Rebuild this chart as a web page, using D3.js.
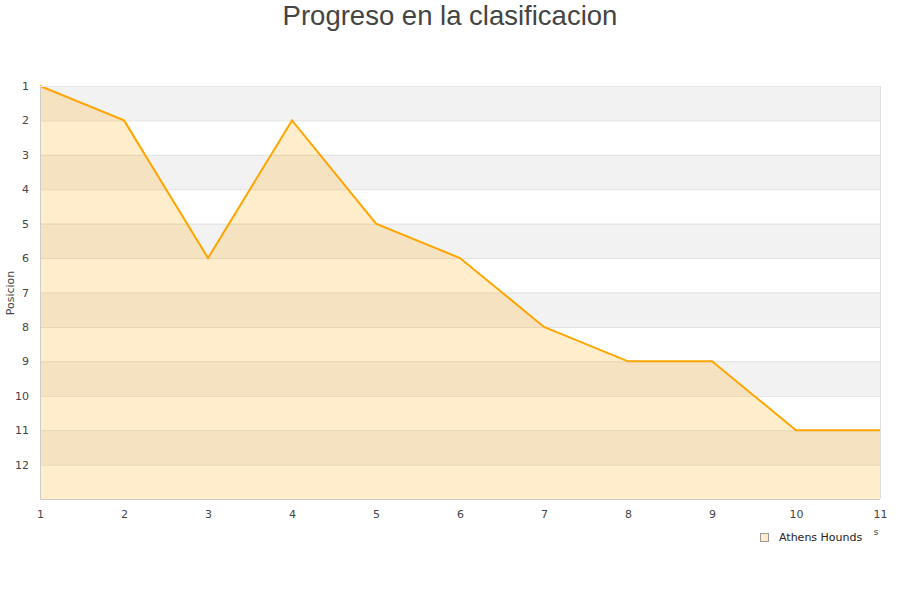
<!DOCTYPE html>
<html><head><meta charset="utf-8">
<script src="https://cdn.jsdelivr.net/npm/d3@7"></script>
<style>body{margin:0;background:#fff}</style>
</head><body>
<svg id="c" width="900" height="600"></svg>
<script>
const jornadas = [1,2,3,4,5,6,7,8,9,10,11];
const posiciones = [1,2,6,2,5,6,8,9,9,11,11];
const yTicks = [1,2,3,4,5,6,7,8,9,10,11,12];
const seriesName = "Athens Hounds";
const title = "Progreso en la clasificacion";

const svg = d3.select("#c");
const m = {l:40, r:880, t:86, b:499};
const x = d3.scaleLinear().domain([1,11]).range([m.l, m.r]);
const y = d3.scaleLinear().domain([1,13]).range([m.t, m.b]);

// bands
const bands = d3.range(1,13);
svg.append("g").selectAll("rect").data(bands).join("rect")
  .attr("x", m.l).attr("width", m.r-m.l)
  .attr("y", d=>y(d)).attr("height", d=>y(d+1)-y(d))
  .attr("fill", d=> d%2===1 ? "#f2f2f2" : "#ffffff");
// grid
svg.append("g").selectAll("line").data(d3.range(2,13)).join("line")
  .attr("x1", m.l).attr("x2", m.r).attr("y1", d=>y(d)+0.5).attr("y2", d=>y(d)+0.5)
  .attr("stroke", "#e0e0e0");

// area
const area = d3.area().x((d,i)=>x(jornadas[i])).y0(y(13)).y1(d=>y(d));
svg.append("path").datum(posiciones).attr("d", area)
  .attr("fill", "#ffa500").attr("fill-opacity", 0.2);
const line = d3.line().x((d,i)=>x(jornadas[i])).y(d=>y(d));
svg.append("path").datum(posiciones).attr("d", line)
  .attr("fill","none").attr("stroke","#ffa500").attr("stroke-width",2);

// border
svg.append("line").attr("x1",m.l+0.5).attr("x2",m.l+0.5).attr("y1",m.t).attr("y2",m.b).attr("stroke","#ccc");
svg.append("line").attr("x1",m.r+0.5).attr("x2",m.r+0.5).attr("y1",m.t).attr("y2",m.b).attr("stroke","#e0e0e0");
svg.append("line").attr("x1",m.l).attr("x2",m.r).attr("y1",m.b+0.5).attr("y2",m.b+0.5).attr("stroke","#ccc");
svg.append("line").attr("x1",m.l).attr("x2",m.r).attr("y1",m.t+0.5).attr("y2",m.t+0.5).attr("stroke","#e8e8e8");

// axes
const font = "DejaVu Sans, sans-serif";
const yAxis = svg.append("g").attr("transform",`translate(${m.l-8},0)`)
  .call(d3.axisLeft(y).tickValues(yTicks).tickSize(0).tickFormat(d3.format("d")));
yAxis.select(".domain").remove();
yAxis.selectAll("text").attr("font-family",font).attr("font-size",11).attr("fill","#444").attr("dx",0);

const xAxis = svg.append("g").attr("transform",`translate(0,${m.b+8})`)
  .call(d3.axisBottom(x).tickValues(jornadas).tickSize(0).tickFormat(d3.format("d")));
xAxis.select(".domain").remove();
xAxis.selectAll("text").attr("font-family",font).attr("font-size",11).attr("fill","#444");

svg.append("text").attr("transform","translate(14,293) rotate(-90)")
  .attr("text-anchor","middle").attr("font-family",font).attr("font-size",11).attr("fill","#444").text("Posicion");

svg.append("text").attr("x",876).attr("y",535).attr("font-family",font).attr("font-size",9).attr("fill","#444").attr("text-anchor","middle").text("s");

svg.append("text").attr("x",450).attr("y",25).attr("text-anchor","middle")
  .attr("font-family","Liberation Sans, Arial, sans-serif").attr("font-size",27.5).attr("fill","#444").text(title);

// legend
svg.append("rect").attr("x",760.5).attr("y",533.5).attr("width",8).attr("height",8)
  .attr("fill","#ffeccc").attr("stroke","#999");
svg.append("text").attr("x",779).attr("y",541).attr("font-family",font).attr("font-size",11).attr("fill","#222").text(seriesName);
</script>
</body></html>
